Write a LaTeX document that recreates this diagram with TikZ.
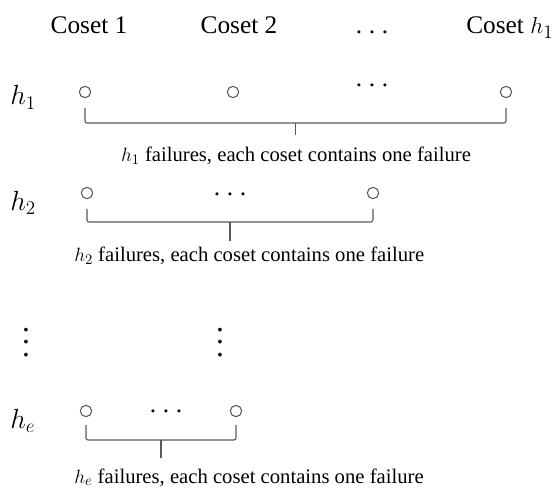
\documentclass[tikz,border=0pt]{standalone}
\usepackage{fontspec}
\setmainfont{Liberation Serif}
\usetikzlibrary{calc}
\definecolor{LineGray}{HTML}{595959}

\tikzset{
  slot/.style={circle, draw=LineGray, line width=0.8pt, minimum size=8.5pt, inner sep=0pt},
  bracket/.style={draw=LineGray, line width=0.8pt, rounded corners=1.5pt},
  head/.style={font=\fontsize{19}{22}\selectfont, inner sep=0pt, anchor=base},
  rowlab/.style={font=\fontsize{21}{24}\selectfont, inner sep=0pt, anchor=base west},
  note/.style={font=\fontsize{15.5}{18}\selectfont, inner sep=0pt, anchor=base},
  vdotsbox/.style={font=\fontsize{10}{12}\selectfont, inner sep=0pt, scale=2.35}
}
\newcommand{\rowdots}{.\hspace{5pt}.\hspace{5pt}.}

\begin{document}
\begin{tikzpicture}[x=0.75pt, y=-0.75pt]
  \useasboundingbox (0,0) rectangle (558,492);

  % column heads
  \node[head] (c1) at (89,34) {Coset 1};
  \node[head] (c2) at (239,34) {Coset 2};
  \node[head] (cdots) at (372,34) {\rowdots};
  \node[head, anchor=base west] (ch) at (466,34) {Coset $h_1$};

  % first row
  \node[rowlab] (h1) at (10,105) {$h_1$};
  \node[slot] (a1) at (85,92) {};
  \node[slot] (a2) at (233,92) {};
  \node[head] (adots) at (372,86.5) {\rowdots};
  \node[slot] (a3) at (506,92) {};
  \draw[bracket] ($(a1)+(0,16)$) |- ($(a3)+(0,31)$) -- ($(a3)+(0,16)$);
  \draw[bracket] ($(a1)!0.5!(a3)+(0,31)$) -- ($(a1)!0.5!(a3)+(0,43)$);
  \node[note] (n1) at (296,162) {$h_1$ failures, each coset contains one failure};

  % second row
  \node[rowlab] (h2) at (10,210) {$h_2$};
  \node[slot] (b1) at (87,193) {};
  \node[head] (bdots) at (230,195.5) {\rowdots};
  \node[slot] (b2) at (373,193) {};
  \draw[bracket] ($(b1)+(0,16)$) |- ($(b2)+(0,29)$) -- ($(b2)+(0,16)$);
  \draw[bracket] ($(b1)!0.5!(b2)+(0,29)$) -- ($(b1)!0.5!(b2)+(0,48)$);
  \node[note, anchor=base west] (n2) at (74,262) {$h_2$ failures, each coset contains one failure};

  % skipped rows
  \node[vdotsbox] (vd1) at (26,333) {$\vdots$};
  \node[vdotsbox] (vd2) at (220,333) {$\vdots$};

  % last row
  \node[rowlab] (he) at (10,428) {$h_e$};
  \node[slot] (e1) at (86,411) {};
  \node[head] (edots) at (166,412.5) {\rowdots};
  \node[slot] (e2) at (236,411) {};
  \draw[bracket] ($(e1)+(0,14)$) |- ($(e2)+(0,29)$) -- ($(e2)+(0,14)$);
  \draw[bracket] ($(e1)!0.5!(e2)+(0,29)$) -- ($(e1)!0.5!(e2)+(0,47)$);
  \node[note, anchor=base west] (n3) at (74,483) {$h_e$ failures, each coset contains one failure};
\end{tikzpicture}
\end{document}
